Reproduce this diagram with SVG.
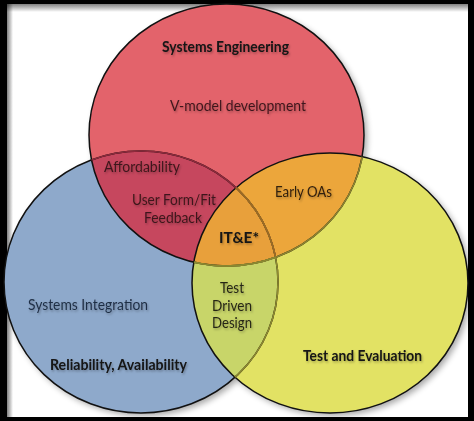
<svg xmlns="http://www.w3.org/2000/svg" width="474" height="421" viewBox="0 0 474 421">
<style>
.lbl{font-family:Lato,"Open Sans","Liberation Sans",sans-serif;font-size:14.5px;text-anchor:middle}
.b{font-weight:bold;fill:#141414}
.r{fill:#3e161b}
.u{fill:#1f2e44}
.y{fill:#262616}
.o{fill:#33200c}
.edge{fill:none;stroke-width:1.5}
</style>
<defs>
<ellipse id="eB" cx="141" cy="282" rx="137" ry="131"/>
<ellipse id="eR" cx="226.5" cy="135" rx="137.5" ry="131"/>
<ellipse id="eY" cx="330" cy="283" rx="138" ry="130"/>
<clipPath id="cB"><use href="#eB"/></clipPath>
<clipPath id="cR"><use href="#eR"/></clipPath>
<clipPath id="cY"><use href="#eY"/></clipPath>
<linearGradient id="gTop" x1="0" y1="0" x2="0" y2="1">
<stop offset="0" stop-color="#000" stop-opacity="0.5"/>
<stop offset="1" stop-color="#000" stop-opacity="0"/>
</linearGradient>
<linearGradient id="gLeft" x1="0" y1="0" x2="1" y2="0">
<stop offset="0" stop-color="#000" stop-opacity="0.5"/>
<stop offset="1" stop-color="#000" stop-opacity="0"/>
</linearGradient>
<filter id="shadow" x="-10%" y="-10%" width="130%" height="130%">
<feGaussianBlur stdDeviation="3"/>
</filter>
<filter id="ts" x="-10%" y="-30%" width="130%" height="180%">
<feDropShadow dx="1" dy="1.5" stdDeviation="1" flood-color="#000" flood-opacity="0.3"/>
</filter>
</defs>

<g id="frame">
<rect x="0" y="0" width="474" height="421" fill="#000"/>
<rect x="7" y="4" width="461" height="413" fill="#fff"/>
<rect x="7" y="4" width="461" height="8" fill="url(#gTop)"/>
<rect x="7" y="4" width="6" height="413" fill="url(#gLeft)"/>
</g>

<g id="circle-shadows" opacity="0.35" filter="url(#shadow)" transform="translate(3,3)">
<use href="#eB" fill="#000"/>
<use href="#eR" fill="#000"/>
<use href="#eY" fill="#000"/>
</g>

<g id="blue-circle"><use href="#eB" fill="#8EA9CB"/></g>
<g id="red-circle"><use href="#eR" fill="#E3636B"/></g>
<g id="yellow-circle"><use href="#eY" fill="#E2E264"/></g>

<g id="overlap-red-blue" clip-path="url(#cR)"><use href="#eB" fill="#C6475E"/></g>
<g id="overlap-blue-yellow" clip-path="url(#cB)"><use href="#eY" fill="#C8D569"/></g>
<g id="overlap-red-yellow" clip-path="url(#cR)"><use href="#eY" fill="#ECA63B"/></g>
<g id="overlap-center" clip-path="url(#cR)"><g clip-path="url(#cB)"><use href="#eY" fill="#E8A03B"/></g></g>

<g id="outlines">
<use href="#eB" class="edge" stroke="#111"/>
<use href="#eR" class="edge" stroke="#111"/>
<use href="#eY" class="edge" stroke="#111"/>
<g clip-path="url(#cR)"><use href="#eB" class="edge" stroke="#8E2A3C"/></g>
<g clip-path="url(#cY)"><use href="#eB" class="edge" stroke="#8F8A30"/></g>
<g clip-path="url(#cY)"><g clip-path="url(#cR)"><use href="#eB" class="edge" stroke="#9C6A22"/></g></g>
<g clip-path="url(#cY)"><use href="#eR" class="edge" stroke="#8F8530"/></g>
<g clip-path="url(#cY)"><g clip-path="url(#cB)"><use href="#eR" class="edge" stroke="#8C8A30"/></g></g>
</g>

<g id="labels" filter="url(#ts)">
<text class="lbl b" x="225.5" y="52" textLength="127" lengthAdjust="spacingAndGlyphs">Systems Engineering</text>
<text class="lbl r" x="238" y="111" textLength="136" lengthAdjust="spacingAndGlyphs">V-model development</text>
<text class="lbl r" x="142" y="172" textLength="76" lengthAdjust="spacingAndGlyphs">Affordability</text>
<text class="lbl r" x="174" y="205" textLength="84" lengthAdjust="spacingAndGlyphs">User Form/Fit</text>
<text class="lbl r" x="173" y="223" textLength="58" lengthAdjust="spacingAndGlyphs">Feedback</text>
<text class="lbl o" x="303.5" y="197" textLength="57" lengthAdjust="spacingAndGlyphs">Early OAs</text>
<text class="lbl b" x="239" y="243" style="font-size:16px" textLength="40" lengthAdjust="spacingAndGlyphs">IT&amp;E*</text>
<text class="lbl y" x="232" y="293" textLength="24" lengthAdjust="spacingAndGlyphs">Test</text>
<text class="lbl y" x="232" y="311" textLength="40" lengthAdjust="spacingAndGlyphs">Driven</text>
<text class="lbl y" x="232" y="328" textLength="40" lengthAdjust="spacingAndGlyphs">Design</text>
<text class="lbl u" x="88" y="310" textLength="120" lengthAdjust="spacingAndGlyphs">Systems Integration</text>
<text class="lbl b" x="118.5" y="370" textLength="137" lengthAdjust="spacingAndGlyphs">Reliability, Availability</text>
<text class="lbl b" x="362.5" y="361" textLength="119" lengthAdjust="spacingAndGlyphs">Test and Evaluation</text>
</g>
</svg>
